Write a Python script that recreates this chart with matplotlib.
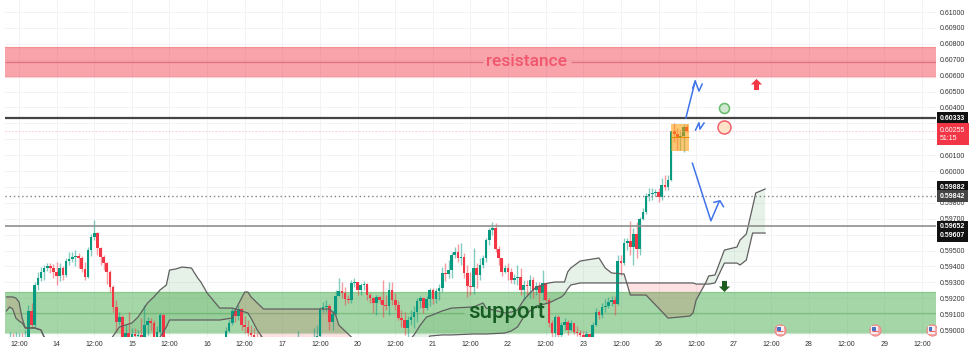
import numpy as np
import matplotlib
matplotlib.use('Agg')
import matplotlib.pyplot as plt
from matplotlib.patches import Rectangle

plt.rcParams['font.family'] = ['Liberation Sans', 'DejaVu Sans']

# hourly candles, prices in points (1e-5), first bar is 3 bars before the 12:00 label
closes = [58937, 58925, 58931, 58943, 58925, 58937, 59120, 59031, 59283, 59327, 59365, 59390, 59403, 59390, 59365, 59340,
          59390, 59346, 59434, 59447, 59459, 59465, 59453, 59384, 59333, 59503, 59585, 59610, 59516, 59459, 59421, 59365,
          59270, 59145, 59050, 59082, 58956, 58981, 58956, 58975, 58962, 58969, 58950, 59031, 59057, 59044, 58956, 58987,
          59094, 58956,
          58925, 58912, 58899, 58887, 58893, 58881, 58868, 58874, 58887, 58899, 58906, 58893, 58912, 58899, 58906, 58918,
          58925, 58912, 58931,
          58994, 59044, 59120, 59088, 59132, 59031, 59019, 58981, 58969, 58956, 58950, 58943,
          58925, 58912, 58906, 58899, 58893, 58899, 58906, 58899, 58912, 58918, 58925,
          58937, 58931, 58925, 58931, 58937, 58956, 58962, 59132, 59145, 59151, 59050, 59101, 59214, 59245, 59233, 59195,
          59189, 59296, 59302, 59252, 59283, 59289, 59220, 59201, 59170, 59208, 59189, 59157, 59151, 59252, 59189, 59157,
          59075, 59063, 59013, 59063, 59082, 59113, 59182, 59201, 59138, 59195, 59252, 59195, 59245, 59264, 59359, 59352,
          59377, 59472, 59491, 59453, 59459, 59359, 59277, 59270, 59390, 59346, 59409, 59453, 59566, 59629, 59642, 59509,
          59453, 59365, 59390, 59365, 59314, 59327, 59333, 59252, 59283, 59277, 59314, 59252, 59277, 59233, 59296, 59189,
          59044, 58981, 59082, 58969, 59031, 59050, 59000, 59044, 58987, 58981, 58969, 58956, 58975, 58956, 59031, 59113,
          59094, 59145, 59151, 59176, 59189, 59164, 59434, 59421, 59547, 59560, 59522, 59604, 59509, 59698, 59742, 59843,
          59855, 59862, 59868, 59837, 59912, 59899, 59943, 60252, 60233, 60214, 60220, 60277, 60255]
highs = [58987, 58981, 58987, 58981, 58981, 59000, 59157, 59170, 59302, 59365, 59396, 59409, 59421, 59421, 59415, 59428,
         59421, 59403, 59453, 59491, 59491, 59503, 59484, 59465, 59428, 59522, 59604, 59692, 59616, 59522, 59472, 59428,
         59377, 59283, 59189, 59113, 59094, 59031, 59113, 59013, 59013, 59000, 59075, 59157, 59082, 59075, 59063, 59025,
         59107, 59101,
         58950, 58937, 58925, 58912, 58918, 58906, 58893, 58899, 58912, 58925, 58931, 58918, 58937, 58925, 58931, 58943,
         58950, 58937, 58950,
         59019, 59063, 59138, 59138, 59157, 59138, 59088, 59063, 59031, 59013, 58987, 58975,
         58950, 58937, 58931, 58925, 58918, 58925, 58931, 58925, 58937, 58943, 58950,
         58994, 58950, 58943, 58950, 58950, 59013, 59031, 59145, 59176, 59189, 59164, 59126, 59252, 59327, 59302, 59270,
         59220, 59314, 59327, 59302, 59296, 59308, 59296, 59233, 59208, 59220, 59214, 59314, 59220, 59302, 59302, 59233,
         59182, 59126, 59113, 59088, 59126, 59151, 59201, 59214, 59208, 59214, 59264, 59264, 59264, 59289, 59396, 59421,
         59440, 59491, 59522, 59541, 59547, 59484, 59409, 59365, 59516, 59421, 59453, 59472, 59579, 59642, 59679, 59673,
         59528, 59453, 59409, 59421, 59390, 59352, 59409, 59390, 59314, 59314, 59346, 59333, 59302, 59302, 59377, 59302,
         59201, 59063, 59094, 59094, 59050, 59075, 59063, 59063, 59031, 59025, 59000, 58994, 58994, 58981, 59050, 59138,
         59126, 59170, 59195, 59208, 59214, 59214, 59472, 59472, 59579, 59579, 59686, 59642, 59679, 59711, 59767, 59862,
         59893, 59893, 59887, 59893, 59956, 59975, 59975, 60252, 60302, 60270, 60258, 60296, 60296]
lows = [58906, 58899, 58906, 58912, 58893, 58906, 58925, 59013, 59019, 59252, 59308, 59314, 59371, 59359, 59327, 59283,
        59308, 59314, 59333, 59409, 59428, 59403, 59390, 59365, 59314, 59327, 59465, 59566, 59472, 59409, 59377, 59289,
        59239, 59113, 58987, 59031, 58906, 58937, 58925, 58937, 58931, 58937, 58925, 58937, 58969, 59000, 58937, 58937,
        58937, 58937,
        58906, 58893, 58881, 58868, 58874, 58862, 58849, 58855, 58868, 58881, 58887, 58874, 58893, 58881, 58887, 58899,
        58906, 58893, 58912,
        58937, 58987, 59031, 59050, 59063, 59000, 58981, 58962, 58943, 58937, 58925, 58918,
        58906, 58893, 58887, 58881, 58874, 58881, 58887, 58881, 58893, 58899, 58906,
        58918, 58912, 58906, 58912, 58918, 58931, 58937, 58956, 59113, 59113, 59000, 59000, 59094, 59214, 59201, 59157,
        59170, 59170, 59270, 59220, 59220, 59252, 59189, 59170, 59107, 59094, 59170, 59082, 59126, 59094, 59157, 59126,
        59063, 59019, 58969, 58956, 59031, 59013, 59050, 59138, 59107, 59126, 59151, 59164, 59170, 59189, 59239, 59308,
        59327, 59327, 59453, 59428, 59409, 59327, 59208, 59220, 59226, 59264, 59314, 59390, 59428, 59535, 59598, 59491,
        59409, 59340, 59359, 59314, 59296, 59289, 59283, 59220, 59189, 59214, 59201, 59201, 59220, 59170, 59189, 59170,
        59019, 58956, 58950, 58937, 58956, 59000, 58969, 58994, 58975, 58962, 58956, 58937, 58943, 58937, 58950, 59025,
        59069, 59075, 59113, 59138, 59151, 59094, 59157, 59346, 59409, 59503, 59472, 59409, 59453, 59472, 59692, 59730,
        59811, 59818, 59843, 59805, 59818, 59881, 59881, 59937, 60182, 60132, 60132, 60120, 60245]

# ichimoku cloud, read at the corners of the two lines
cloud_bars = [-4, -3, -2, -1, 0, 1, 2, 5, 7, 8, 10, 27, 30, 32, 36, 38, 41, 43, 45, 47, 48, 50, 52, 55, 57, 58, 60, 64,
              68, 69, 72, 73, 74, 76, 78, 80, 99, 101, 102, 106, 109, 122, 126, 128, 130, 131, 135, 138, 145, 148, 149,
              155, 157, 159, 161, 163, 165, 169, 171, 173, 174, 175, 176, 179, 185, 187, 189, 193, 195, 200, 204, 207,
              211, 214, 215, 216, 219, 220, 222, 225, 229, 230, 232, 234, 235, 238]
span_a = [59120, 59145, 59132, 59075, 59057, 59044, 59013, 59013, 59000, 58956, 58906, 58874, 58962, 59019, 59044, 59082,
          59170, 59208, 59252, 59283, 59377, 59384, 59396, 59390, 59327, 59302, 59233, 59138, 59138, 59132, 59113, 59107,
          59075, 59000, 58943, 58906, 58874, 58874, 58874, 58874, 58874, 58874, 58969, 59031, 59082, 59088, 59120, 59138,
          59145, 59170, 59138, 59107, 59113, 59126, 59189, 59233, 59270, 59296, 59302, 59302, 59302, 59365, 59390, 59434,
          59453, 59390, 59359, 59352, 59220, 59220, 59138, 59075, 59082, 59088, 59107, 59189, 59296, 59340, 59346, 59503,
          59522, 59566, 59604, 59774, 59862, 59887]
span_b = [59208, 59208, 59208, 59201, 59176, 59075, 59013, 59013, 59000, 58956, 58906, 58811, 58811, 58811, 58811, 58811,
          58811, 58874, 58956, 59019, 59063, 59063, 59063, 59063, 59063, 59063, 59063, 59063, 59075, 59126, 59239, 59239,
          59208, 59170, 59132, 59132, 59132, 59094, 59031, 58956, 58906, 58874, 58906, 58906, 58906, 58962, 58969, 58969,
          58975, 58975, 58975, 58981, 58994, 59019, 59082, 59120, 59151, 59170, 59189, 59208, 59226, 59258, 59283, 59296,
          59296, 59296, 59296, 59296, 59296, 59296, 59296, 59296, 59296, 59296, 59296, 59289, 59289, 59289, 59296, 59421,
          59421, 59409, 59440, 59610, 59610, 59610]

x_labels = ['12:00', '14', '12:00', '15', '12:00', '16', '12:00', '17', '12:00', '20', '12:00', '21', '12:00', '22',
            '12:00', '23', '12:00', '26', '12:00', '27', '12:00', '28', '12:00', '29', '12:00']
price_ticks = [59000, 59100, 59200, 59300, 59400, 59500, 59600, 59700, 59800, 59900, 60000, 60100, 60200, 60300, 60400,
               60500, 60600, 60700, 60800, 60900, 61000]
hidden_ticks = [60200]  # sits under the red price badge

# drawn levels
resistance = (60593, 60689, 60782)
support = (58983, 59107, 59239)
level_black = 60333
level_grey = 59652
level_dotted = 59842
last_price = 60255

# hand drawn blue strokes
stroke_up_bars, stroke_up = [212.7, 215.7, 216.9, 217.9], [60333, 60566, 60503, 60547]
stroke_hook_bars, stroke_hook = [214.9, 215.7], [60522, 60566]
stroke_zig_bars, stroke_zig = [215.8, 216.9, 217.2, 218.5], [60258, 60304, 60264, 60302]
stroke_down_bars, stroke_down = [214.8, 220.7, 223.3], [60049, 59687, 59807]
stroke_head_bars, stroke_head = [221.7, 223.6, 224.7], [59803, 59813, 59776]

calendar_bars = [242.8, 273, 291.1]

GREEN = '#089981'
RED = '#f23645'

fig = plt.figure(figsize=(9.74, 3.56), dpi=100)
ax = fig.add_axes([5 / 974, 19 / 356, 931 / 974, 337 / 356])

bars = np.arange(-3, 214)
c = np.array(closes) / 1e5
h = np.array(highs) / 1e5
l = np.array(lows) / 1e5
o = np.r_[c[0], c[:-1]]
up = c >= o
colors = np.where(up, GREEN, RED)

# zones
ax.axhspan(resistance[0] / 1e5, resistance[2] / 1e5, color='#f23645', alpha=0.45, lw=0, zorder=1)
ax.axhspan(support[0] / 1e5, support[2] / 1e5, color='#4caf50', alpha=0.5, lw=0, zorder=1)
for lev in (resistance[0], resistance[2]):
    ax.axhline(lev / 1e5, color='#f23645', alpha=0.2, lw=1, zorder=1)
for lev in (support[0], support[2]):
    ax.axhline(lev / 1e5, color='#4caf50', alpha=0.3, lw=1, zorder=1)
ax.hlines([resistance[1] / 1e5] * 2, [-4.5, 176], [148, 292.5], color='#e0707c', lw=0.9, zorder=1.5)
ax.hlines([support[1] / 1e5] * 2, [-4.5, 169], [142, 292.5], color='#7cc07f', lw=0.9, zorder=1.5)

# cloud
a = np.array(span_a) / 1e5
b = np.array(span_b) / 1e5
ax.fill_between(cloud_bars, a, b, where=a >= b, interpolate=True, color='#388e3c', alpha=0.12, lw=0, zorder=2)
ax.fill_between(cloud_bars, a, b, where=a <= b, interpolate=True, color='#f23645', alpha=0.15, lw=0, zorder=2)

# candles
ax.vlines(bars, l, h, colors=colors, lw=1.0, alpha=0.5, zorder=3)
ax.bar(bars, np.abs(c - o), bottom=np.minimum(c, o), width=0.84, color=colors, lw=0, zorder=3.1)

ax.plot(cloud_bars, a, color='#5f5f5f', lw=0.9, zorder=4)
ax.plot(cloud_bars, b, color='#5f5f5f', lw=0.9, zorder=4)

# levels
ax.axhline(level_black / 1e5, color='#444444', lw=1.6, zorder=4)
ax.axhline(level_grey / 1e5, color='#8f8f8f', lw=1.2, zorder=4)
ax.axhline(level_dotted / 1e5, color='#808080', lw=1.0, ls=(0, (1, 2)), zorder=4)
ax.axhline(last_price / 1e5, color='#fbc4c9', lw=0.6, ls=(0, (2, 2)), zorder=4)

# orange box over the last candles
ax.add_patch(Rectangle((207.9, 0.60125), 5.8, 0.00172, fc='#ff9800', ec='none', alpha=0.55, zorder=5))
ax.hlines(0.60214, 207.9, 213.7, color='#e68a00', lw=0.7, zorder=5)

# blue strokes
for xs, ys in [(stroke_up_bars, stroke_up), (stroke_hook_bars, stroke_hook), (stroke_zig_bars, stroke_zig),
               (stroke_down_bars, stroke_down), (stroke_head_bars, stroke_head)]:
    ax.plot(xs, np.array(ys) / 1e5, color='#3f73e8', lw=1.1, zorder=6)

# circles and arrows
ax.scatter([224.9], [0.60396], s=52, fc='#cfe8cf', ec='#66bb6a', lw=1.1, zorder=6)
ax.scatter([224.9], [0.60275], s=88, fc='#ffe3c8', ec='#f0616d', lw=1.1, zorder=6)
arrow = [(0, 1), (1, 0), (0.45, 0), (0.45, -1), (-0.45, -1), (-0.45, 0), (-1, 0), (0, 1)]
ax.scatter([235], [0.60547], s=64, marker=arrow, color='#f23645', lw=0, zorder=6)
ax.scatter([225], [0.59277], s=64, marker=[(x, -y) for x, y in arrow], color='#1b5e20', lw=0, zorder=6)

# calendar flags
cal_y = [0.59] * len(calendar_bars)
ax.scatter(calendar_bars, cal_y, s=64, fc='#f6a9a9', ec='#ee8a8a', lw=0.8, zorder=6)
ax.scatter(calendar_bars, cal_y, s=26, marker='s', fc='#f7f0f0', ec='none', zorder=6.1)
ax.scatter(np.array(calendar_bars) - 0.35, [0.59008] * len(calendar_bars), s=7, marker='s', fc='#4a72c4', ec='none', zorder=6.2)
ax.scatter(calendar_bars, [0.58992] * len(calendar_bars), s=22, marker='_', color='#e86a6a', lw=0.8, zorder=6.2)

ax.text(162, 0.60689, 'resistance', color='#f0566c', fontsize=12.5, family=['Roboto', 'DejaVu Sans'],
        fontweight='medium', ha='center', va='center', zorder=7)
ax.text(155.5, 0.59107, 'support', color='#175c22', fontsize=16, family=['Roboto', 'DejaVu Sans'],
        fontweight='medium', ha='center', va='center', zorder=7)

ax.set_xlim(-4.47, 292.5)
ax.set_ylim(0.58956, 0.61076)
ax.set_xticks(np.arange(0, 289, 12))
ax.set_xticklabels(x_labels)
ax.set_yticks(np.array(price_ticks) / 1e5)
ax.set_yticklabels(['' if p in hidden_ticks else f'{p / 1e5:.5f}' for p in price_ticks])
ax.yaxis.tick_right()
ax.tick_params(axis='both', length=0, labelsize=5, labelcolor='#333333')
ax.tick_params(axis='y', pad=3)
ax.tick_params(axis='x', pad=3)
ax.grid(True, color='#f1f3f7', lw=0.7)
ax.set_axisbelow(True)
for s in ax.spines.values():
    s.set_visible(False)

# price badges on the right
tr = ax.get_yaxis_transform()
badge_text = ['0.60333', '0.59882', '0.59842', '0.59652', '0.59607']
badge_pos = [0.60333, 0.59899, 0.59843, 0.59648, 0.59594]
badge_col = ['#111111', '#111111', '#444444', '#111111', '#111111']
for t, p, col in zip(badge_text, badge_pos, badge_col):
    ax.text(1 + 4 / 931, p, t, transform=tr, color='white', fontsize=5, fontweight='bold', va='center', ha='left',
            bbox=dict(boxstyle='square,pad=0.4', fc=col, ec='none'), zorder=10, clip_on=False)
ax.text(1 + 4 / 931, 0.60233, '0.60255\n51:15', transform=tr, color='white', fontsize=5, va='center', ha='left',
        linespacing=1.2, bbox=dict(boxstyle='square,pad=0.45', fc='#f23645', ec='none'), zorder=10, clip_on=False)

fig.savefig('out.png', dpi=100)
